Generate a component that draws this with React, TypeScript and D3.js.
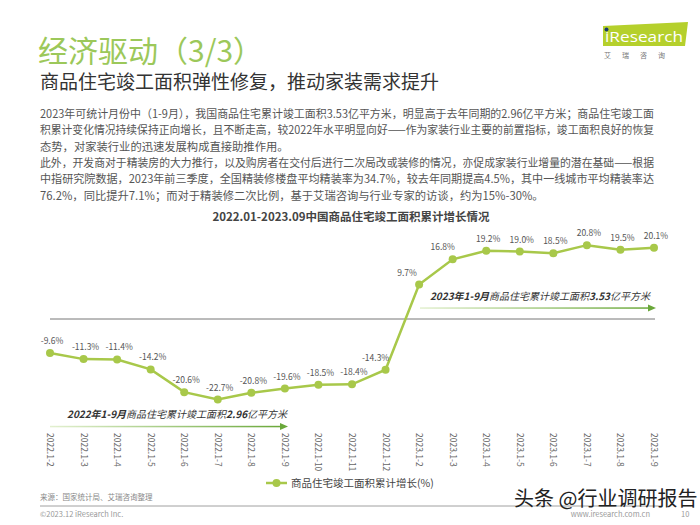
import React from "react";
import * as d3 from "d3";

const categories = [
  "2022.1-2", "2022.1-3", "2022.1-4", "2022.1-5", "2022.1-6", "2022.1-7",
  "2022.1-8", "2022.1-9", "2022.1-10", "2022.1-11", "2022.1-12",
  "2023.1-2", "2023.1-3", "2023.1-4", "2023.1-5", "2023.1-6", "2023.1-7",
  "2023.1-8", "2023.1-9",
];
const growth = [
  -9.6, -11.3, -11.4, -14.2, -20.6, -22.7, -20.8, -19.6, -18.5, -18.4, -14.3,
  9.7, 16.8, 19.2, 19.0, 18.5, 20.8, 19.5, 20.1,
];
const paragraph = [
  "2023年可统计月份中（1-9月），我国商品住宅累计竣工面积3.53亿平方米，明显高于去年同期的2.96亿平方米；商品住宅竣工面",
  "积累计变化情况持续保持正向增长，且不断走高，较2022年水平明显向好——作为家装行业主要的前置指标，竣工面积良好的恢复",
  "态势，对家装行业的迅速发展构成直接助推作用。",
  "此外，开发商对于精装房的大力推行，以及购房者在交付后进行二次局改或装修的情况，亦促成家装行业增量的潜在基础——根据",
  "中指研究院数据，2023年前三季度，全国精装修楼盘平均精装率为34.7%，较去年同期提高4.5%，其中一线城市平均精装率达",
  "76.2%，同比提升7.1%；而对于精装修二次比例，基于艾瑞咨询与行业专家的访谈，约为15%-30%。",
];
const justified = [true, true, false, true, true, false];

const FONT = "'Noto Sans CJK SC', 'Noto Sans', sans-serif";
const GREEN = "#a8c84a";

function Logo({ x0, y0 }: { x0: number; y0: number }) {
  return (
    <g transform={`translate(${x0},${y0})`}>
      <path d="M0,4 L85,0 L82,24 L0,24 Z" fill="#b5d02c" />
      <circle cx={3.5} cy={7.5} r={2} fill="#1a3a6e" />
      <text x={2} y={20} fontSize={15} fill="#ffffff" fontFamily="'Open Sans', sans-serif" textLength={78} lengthAdjust="spacingAndGlyphs">
        iResearch
      </text>
    </g>
  );
}

export default function App() {
  const x = d3.scalePoint<string>().domain(categories).range([50, 654]);
  const y = d3.scaleLinear().domain([-25, 25]).range([407.75, 230.25]);
  const line = d3
    .line<number>()
    .x((_, i) => x(categories[i]) as number)
    .y((d) => y(d));
  const labelDx = (i: number) => (i === 10 ? -10 : i === 11 ? -12 : i === 12 ? -10 : 2);

  return (
    <svg width={700} height={525} style={{ position: "absolute", left: 0, top: 0 }} fontFamily={FONT}>
      <defs>
        <linearGradient id="arrGrad" x1="0" x2="1" y1="0" y2="0">
          <stop offset="0" stopColor="#e3f0d0" />
          <stop offset="1" stopColor="#6aa83a" />
        </linearGradient>
      </defs>
      <rect width={700} height={525} fill="#fff" />
      {/* Title */}
      <text x={38} y={62} fontSize={30} fill="#9cc85a">经济驱动（3/3）</text>
      <text x={40} y={89} fontSize={19} fill="#333">商品住宅竣工面积弹性修复，推动家装需求提升</text>
      <text x={604} y={58} fontSize={7} fill="#777" letterSpacing={11}>艾瑞咨询</text>
      {/* Paragraph */}
      {paragraph.map((t, i) => (
        <text
          key={i}
          x={40}
          y={118 + i * 16.3}
          fontSize={11.3}
          fill="#555"
          {...(justified[i] ? { textLength: 614, lengthAdjust: "spacingAndGlyphs" } : {})}
        >
          {t}
        </text>
      ))}
      {/* Chart title */}
      <text x={351} y={221} fontSize={11.5} fontWeight="bold" fill="#444" textAnchor="middle">
        2022.01-2023.09中国商品住宅竣工面积累计增长情况
      </text>
      {/* Zero line */}
      <line x1={50} x2={655} y1={y(0)} y2={y(0)} stroke="#777" strokeWidth={1} />
      {/* Annotation 2023 */}
      <text x={650} y={300} fontSize={10} fontStyle="italic" fill="#333" textAnchor="end">
        <tspan fontWeight="bold">2023年1-9月</tspan>
        <tspan>商品住宅累计竣工面积</tspan>
        <tspan fontWeight="bold">3.53</tspan>
        <tspan>亿平方米</tspan>
      </text>
      <rect x={420} y={307.3} width={230} height={1.5} fill="url(#arrGrad)" />
      <path d="M656,308 L648,304.5 L648,311.5 Z" fill="#6aa83a" />
      {/* Annotation 2022 */}
      <text x={67} y={418} fontSize={10} fontStyle="italic" fill="#333">
        <tspan fontWeight="bold">2022年1-9月</tspan>
        <tspan>商品住宅累计竣工面积</tspan>
        <tspan fontWeight="bold">2.96</tspan>
        <tspan>亿平方米</tspan>
      </text>
      <rect x={50} y={425.8} width={232} height={1.5} fill="url(#arrGrad)" />
      <path d="M288,426.5 L280,423 L280,430 Z" fill="#6aa83a" />
      {/* Line and markers */}
      <path d={line(growth) as string} fill="none" stroke={GREEN} strokeWidth={2.5} />
      {growth.map((v, i) => (
        <circle key={i} cx={x(categories[i]) as number} cy={y(v)} r={4} fill={GREEN} />
      ))}
      {growth.map((v, i) => (
        <text
          key={"l" + i}
          x={(x(categories[i]) as number) + labelDx(i)}
          y={y(v) - 9}
          fontSize={8.5}
          fill="#555"
          textAnchor="middle"
        >
          {v.toFixed(1)}%
        </text>
      ))}
      {/* X labels */}
      {categories.map((c, i) => (
        <text
          key={"x" + i}
          transform={`translate(${(x(c) as number) - 3},433) rotate(90)`}
          fontSize={8.5}
          fill="#666"
        >
          {c}
        </text>
      ))}
      {/* Legend */}
      <line x1={266} x2={287} y1={483} y2={483} stroke={GREEN} strokeWidth={2.5} />
      <circle cx={276.5} cy={483} r={4} fill={GREEN} />
      <text x={291} y={487} fontSize={10.5} fill="#444">商品住宅竣工面积累计增长(%)</text>
      {/* Footer */}
      <text x={40} y={500} fontSize={7.5} fill="#888">来源：国家统计局、艾瑞咨询整理</text>
      <line x1={40} x2={662} y1={506} y2={506} stroke="#888" strokeWidth={0.8} />
      <text x={40} y={517} fontSize={7.5} fill="#999">©2023.12 iResearch Inc.</text>
      <text x={650} y={517} fontSize={7.5} fill="#999" textAnchor="end">www.iresearch.com.cn</text>
      <text x={681} y={517} fontSize={7.5} fill="#999">10</text>
      <text x={514} y={506} fontSize={20} fill="#222">头条 @行业调研报告</text>
      {/* Logo (drawn last) */}
      <Logo x0={603} y0={22} />
    </svg>
  );
}
